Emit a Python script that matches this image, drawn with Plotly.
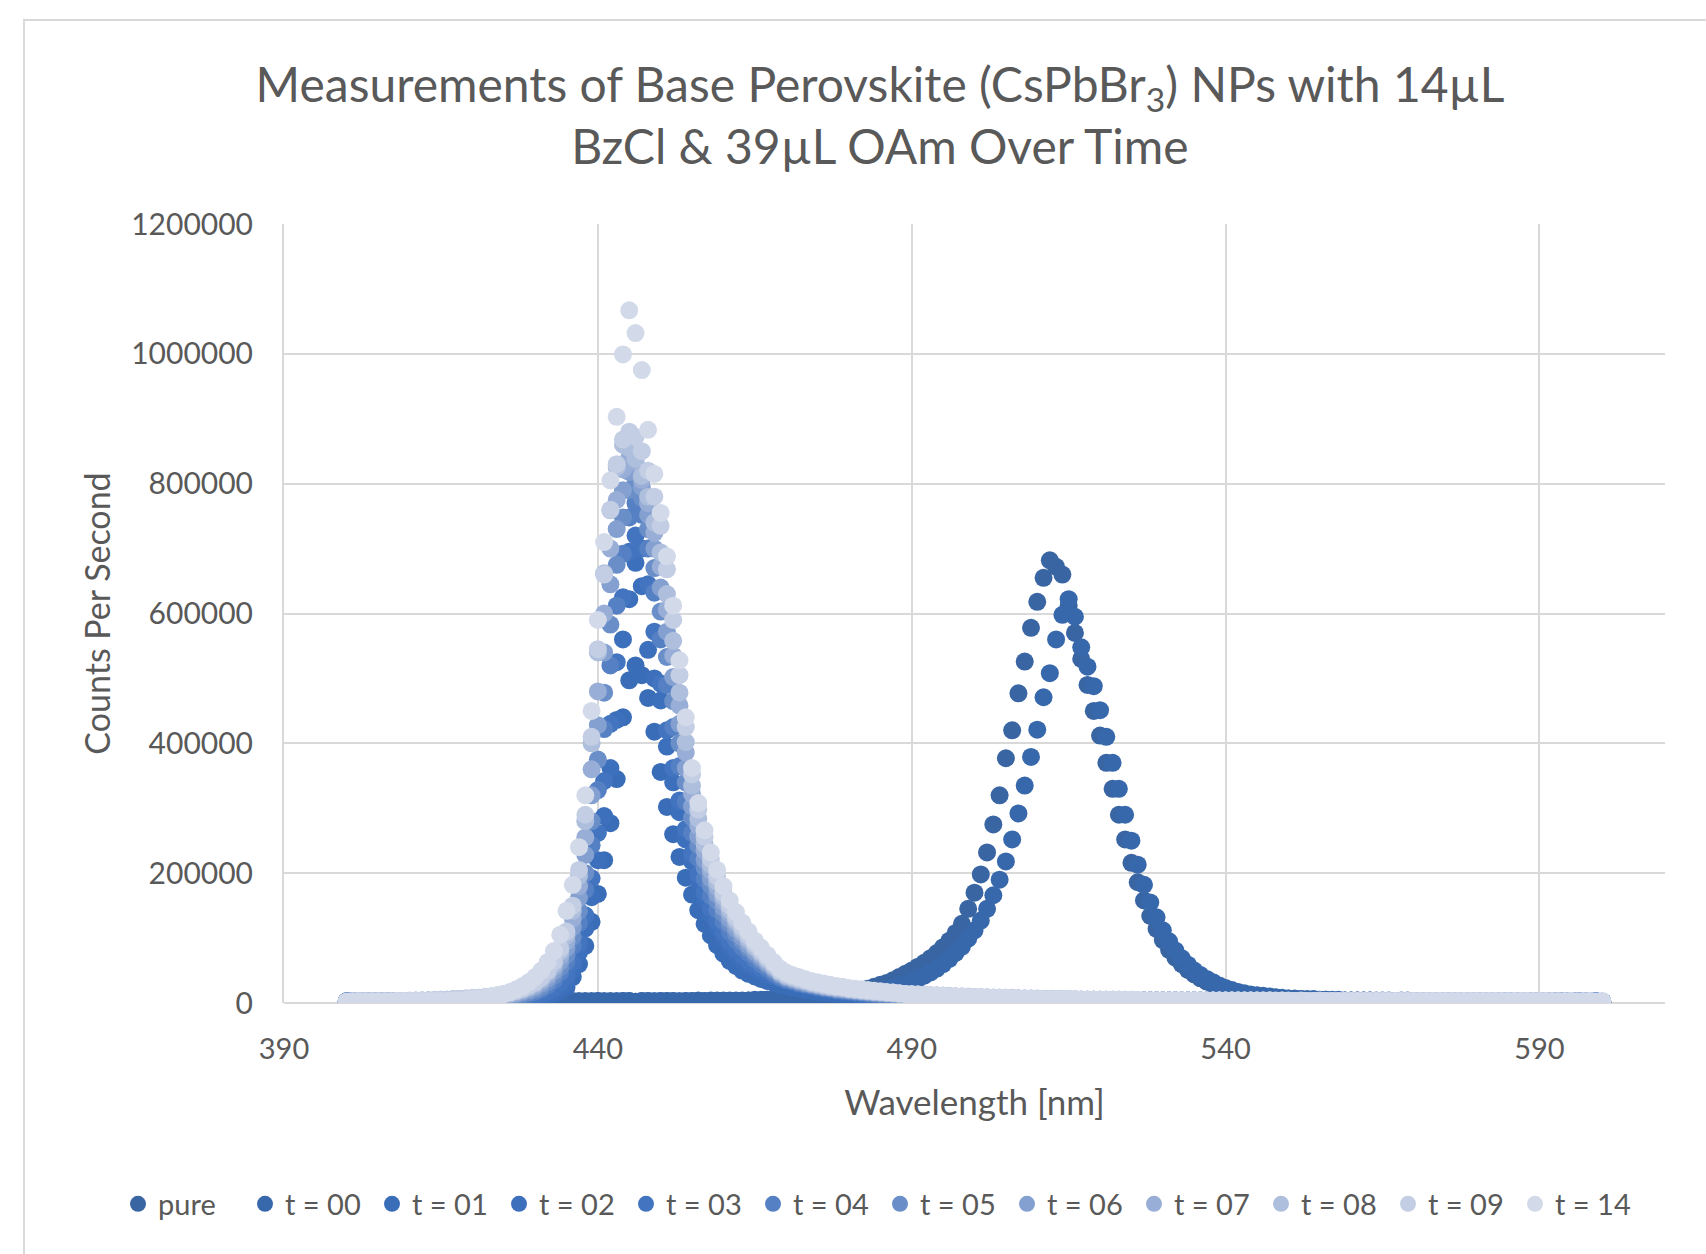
import plotly.graph_objects as go

# ---------------- data (counts per second, in thousands) ----------------
WAVELENGTH_NM = list(range(400, 601))

SERIES_NAMES = ["pure", "t = 00", "t = 01", "t = 02", "t = 03", "t = 04",
                "t = 05", "t = 06", "t = 07", "t = 08", "t = 09", "t = 14"]

COLORS = ["#3A65A3", "#3868AC", "#3A6DB7", "#3C70BC", "#4274C0", "#5580C4",
          "#6A8FC8", "#84A0D0", "#99AED6", "#AEBFDD", "#C3CEE4", "#D2DAEA"]

PURE_K = [
    2, 3, 2, 2, 3, 2, 2, 3, 2, 2,
    3, 2, 2, 3, 2, 2, 3, 2, 2, 3,
    2, 2, 3, 2, 2, 3, 2, 3, 2, 2,
    3, 2, 2, 3, 2, 3, 2, 2, 3, 2,
    3, 2, 3, 2, 3, 3, 2, 3, 3, 2,
    3, 3, 3, 2, 3, 3, 3, 3, 3, 3,
    3, 3, 3, 3, 4, 4, 4, 5, 5, 5,
    6, 6, 7, 7, 8, 9, 10, 11, 12, 14,
    15, 17, 19, 22, 25, 28, 31, 35, 40, 45,
    50, 56, 62, 69, 77, 86, 96, 108, 122, 145,
    170, 198, 232, 275, 320, 377, 420, 477, 526, 578,
    618, 655, 682, 672, 660, 612, 570, 530, 490, 450,
    412, 370, 330, 290, 252, 216, 186, 158, 134, 114,
    97, 82, 70, 60, 51, 44, 38, 33, 28, 24,
    21, 18, 16, 14, 12, 11, 10, 9, 8, 7,
    7, 6, 6, 5, 5, 5, 5, 4, 4, 4,
    4, 4, 4, 4, 3, 4, 3, 3, 4, 3,
    3, 3, 3, 3, 3, 3, 3, 3, 2, 3,
    3, 2, 3, 3, 2, 3, 2, 3, 2, 2,
    3, 2, 2, 3, 2, 2, 2, 3, 2, 2,
    2]

T00_K = [
    3, 2, 2, 3, 2, 3, 2, 2, 3, 2,
    2, 3, 2, 2, 3, 2, 3, 2, 2, 3,
    2, 3, 2, 2, 3, 2, 2, 3, 2, 3,
    2, 3, 3, 2, 3, 2, 3, 3, 2, 3,
    3, 3, 2, 3, 3, 3, 2, 3, 3, 3,
    3, 3, 3, 3, 3, 3, 4, 3, 4, 4,
    4, 4, 4, 4, 4, 5, 5, 5, 5, 6,
    6, 6, 6, 7, 7, 7, 8, 8, 9, 9,
    10, 11, 12, 14, 16, 18, 20, 23, 26, 29,
    33, 37, 42, 47, 53, 60, 68, 77, 87, 99,
    112, 127, 145, 166, 190, 218, 252, 292, 335, 379,
    421, 471, 508, 560, 598, 622, 595, 548, 518, 488,
    451, 410, 370, 330, 290, 250, 213, 182, 155, 132,
    112, 95, 81, 69, 59, 50, 43, 37, 32, 27,
    23, 20, 17, 15, 13, 12, 11, 10, 9, 8,
    7, 7, 6, 6, 6, 5, 5, 5, 5, 4,
    4, 4, 4, 4, 4, 3, 4, 3, 3, 4,
    3, 3, 3, 3, 3, 3, 3, 3, 3, 3,
    3, 3, 2, 3, 3, 2, 3, 3, 2, 3,
    2, 3, 2, 2, 3, 2, 2, 3, 2, 2,
    2]

T01_K = [
    2, 2, 2, 2, 2, 2, 2, 2, 2, 2,
    2, 2, 2, 3, 3, 3, 3, 3, 3, 3,
    4, 4, 4, 4, 5, 5, 5, 6, 6, 7,
    7, 8, 10, 13, 18, 24, 40, 60, 88, 125,
    168, 220, 277, 345, 440, 497, 520, 505, 470, 418,
    356, 302, 260, 225, 193, 167, 143, 122, 104, 89,
    76, 65, 57, 50, 45, 41, 37, 34, 31, 28,
    26, 24, 22, 20, 19, 17, 16, 15, 14, 13,
    12, 12, 11, 10, 10, 9, 9, 8, 8, 8,
    7, 7, 7, 6, 6, 6, 6, 6, 5, 5,
    5, 5, 5, 5, 5, 4, 4, 4, 4, 4,
    4, 4, 4, 4, 4, 4, 4, 4, 4, 4,
    4, 4, 3, 4, 3, 3, 4, 3, 3, 3,
    3, 3, 3, 3, 3, 3, 3, 3, 3, 3,
    3, 3, 3, 3, 3, 3, 3, 3, 3, 3,
    3, 3, 3, 3, 3, 2, 3, 3, 3, 3,
    3, 3, 2, 3, 3, 3, 2, 3, 3, 2,
    3, 3, 2, 3, 2, 3, 3, 2, 3, 2,
    2, 3, 2, 2, 3, 2, 2, 3, 2, 2,
    2, 2, 3, 2, 2, 2, 2, 2, 3, 2,
    2]

T02_K = [
    2, 2, 2, 2, 2, 2, 2, 2, 2, 2,
    2, 2, 2, 3, 3, 3, 3, 3, 3, 4,
    4, 4, 5, 5, 5, 6, 6, 7, 8, 8,
    9, 10, 13, 17, 24, 31, 52, 78, 115, 163,
    220, 288, 362, 436, 560, 622, 678, 642, 544, 500,
    466, 395, 340, 294, 252, 218, 187, 160, 136, 116,
    99, 85, 75, 65, 59, 54, 48, 44, 41, 37,
    34, 31, 29, 26, 25, 22, 21, 20, 18, 17,
    16, 14, 13, 13, 12, 12, 11, 11, 10, 10,
    9, 9, 9, 8, 8, 8, 7, 7, 7, 7,
    6, 6, 6, 6, 6, 5, 5, 5, 5, 5,
    5, 5, 5, 4, 4, 4, 4, 4, 4, 4,
    4, 4, 4, 4, 4, 4, 4, 4, 4, 4,
    4, 4, 4, 3, 4, 3, 4, 3, 3, 4,
    3, 3, 3, 3, 3, 3, 3, 3, 3, 3,
    3, 3, 3, 3, 3, 3, 3, 3, 3, 3,
    3, 3, 3, 2, 3, 3, 3, 3, 2, 3,
    3, 3, 3, 2, 3, 3, 2, 3, 3, 2,
    3, 2, 3, 2, 2, 3, 2, 3, 2, 2,
    2, 3, 2, 2, 3, 2, 2, 2, 2, 3,
    2]

T03_K = [
    2, 2, 2, 2, 2, 2, 2, 2, 3, 3,
    3, 3, 3, 3, 3, 3, 3, 4, 4, 4,
    4, 5, 5, 5, 6, 6, 7, 8, 9, 10,
    12, 14, 18, 23, 31, 42, 62, 92, 135, 192,
    262, 342, 430, 525, 625, 695, 720, 700, 645, 572,
    492, 420, 362, 312, 268, 230, 198, 170, 146, 126,
    109, 94, 83, 73, 65, 59, 53, 48, 43, 39,
    35, 33, 30, 28, 26, 24, 22, 21, 19, 18,
    17, 16, 15, 14, 13, 13, 12, 12, 11, 11,
    10, 10, 9, 9, 9, 8, 8, 8, 7, 7,
    7, 7, 6, 6, 6, 6, 6, 5, 5, 5,
    5, 5, 5, 5, 5, 5, 4, 4, 4, 4,
    4, 4, 4, 4, 4, 4, 4, 4, 4, 4,
    4, 4, 4, 4, 4, 4, 3, 3, 4, 3,
    3, 3, 3, 3, 3, 3, 3, 3, 3, 3,
    3, 3, 3, 3, 3, 3, 3, 3, 3, 3,
    3, 3, 3, 3, 3, 3, 3, 3, 3, 3,
    3, 2, 3, 3, 3, 2, 3, 3, 2, 3,
    3, 2, 3, 3, 2, 3, 2, 2, 3, 2,
    2, 3, 2, 2, 3, 2, 2, 3, 2, 2,
    2]

T04_K = [
    2, 2, 2, 2, 2, 2, 3, 3, 3, 3,
    3, 3, 3, 3, 3, 4, 4, 4, 4, 5,
    5, 5, 6, 6, 7, 8, 9, 10, 12, 14,
    17, 21, 27, 35, 47, 63, 88, 123, 174, 243,
    328, 422, 520, 612, 692, 748, 770, 752, 700, 632,
    560, 490, 425, 365, 310, 262, 223, 191, 165, 144,
    126, 110, 97, 86, 77, 68, 60, 53, 46, 40,
    36, 34, 31, 29, 27, 25, 23, 22, 20, 19,
    18, 17, 16, 15, 14, 14, 13, 13, 12, 12,
    11, 11, 10, 10, 10, 9, 9, 9, 8, 8,
    8, 7, 7, 7, 7, 6, 6, 6, 6, 6,
    5, 5, 5, 5, 5, 5, 5, 5, 4, 4,
    4, 4, 4, 4, 4, 4, 4, 4, 4, 4,
    4, 4, 4, 4, 4, 4, 4, 4, 3, 4,
    3, 4, 3, 3, 3, 3, 3, 3, 3, 3,
    3, 3, 3, 3, 3, 3, 3, 3, 3, 3,
    3, 3, 3, 3, 3, 3, 3, 3, 3, 3,
    3, 3, 3, 3, 2, 3, 3, 3, 2, 3,
    3, 3, 2, 3, 2, 3, 3, 2, 3, 2,
    2, 3, 2, 3, 2, 2, 3, 2, 2, 2,
    2]

T05_K = [
    2, 2, 2, 2, 2, 3, 3, 3, 3, 3,
    3, 3, 3, 3, 4, 4, 4, 4, 5, 5,
    5, 6, 6, 7, 8, 9, 10, 12, 14, 17,
    20, 25, 32, 42, 55, 74, 102, 142, 200, 280,
    375, 478, 583, 675, 748, 790, 800, 778, 730, 670,
    603, 533, 465, 400, 340, 286, 243, 209, 181, 158,
    138, 121, 107, 95, 84, 75, 66, 58, 50, 43,
    38, 35, 32, 30, 28, 26, 24, 23, 21, 20,
    19, 18, 17, 16, 15, 14, 14, 13, 13, 12,
    12, 11, 11, 10, 10, 10, 9, 9, 9, 8,
    8, 8, 8, 7, 7, 7, 7, 6, 6, 6,
    6, 6, 5, 5, 5, 5, 5, 5, 5, 5,
    4, 4, 4, 4, 4, 4, 4, 4, 4, 4,
    4, 4, 4, 4, 4, 4, 4, 4, 4, 4,
    4, 3, 4, 3, 3, 3, 3, 3, 3, 3,
    3, 3, 3, 3, 3, 3, 3, 3, 3, 3,
    3, 3, 3, 3, 3, 3, 3, 3, 3, 3,
    3, 3, 3, 3, 3, 3, 3, 2, 3, 3,
    3, 2, 3, 3, 2, 3, 3, 2, 3, 2,
    3, 2, 2, 3, 2, 2, 3, 2, 2, 2,
    2]

T06_K = [
    2, 2, 2, 2, 3, 3, 3, 3, 3, 3,
    3, 3, 3, 4, 4, 4, 4, 5, 5, 6,
    6, 7, 7, 8, 9, 10, 12, 14, 17, 20,
    24, 30, 38, 49, 64, 85, 117, 162, 228, 320,
    428, 540, 645, 730, 790, 818, 820, 795, 752, 700,
    640, 572, 502, 430, 362, 303, 257, 221, 192, 168,
    147, 129, 114, 101, 89, 79, 70, 61, 53, 45,
    40, 37, 34, 31, 29, 27, 25, 24, 22, 21,
    20, 19, 18, 17, 16, 15, 15, 14, 13, 13,
    12, 12, 11, 11, 11, 10, 10, 9, 9, 9,
    8, 8, 8, 8, 7, 7, 7, 7, 6, 6,
    6, 6, 6, 6, 5, 5, 5, 5, 5, 5,
    5, 5, 4, 4, 4, 4, 4, 4, 4, 4,
    4, 4, 4, 4, 4, 4, 4, 4, 4, 4,
    4, 4, 4, 3, 4, 3, 3, 3, 3, 3,
    3, 3, 3, 3, 3, 3, 3, 3, 3, 3,
    3, 3, 3, 3, 3, 3, 3, 3, 3, 3,
    3, 3, 3, 3, 3, 3, 3, 3, 3, 3,
    3, 3, 2, 3, 3, 2, 3, 3, 2, 3,
    2, 3, 2, 2, 3, 2, 2, 3, 2, 2,
    2]

T07_K = [
    2, 2, 2, 3, 3, 3, 3, 3, 3, 3,
    3, 3, 4, 4, 4, 4, 5, 5, 6, 6,
    7, 7, 8, 9, 10, 12, 14, 16, 19, 23,
    27, 34, 43, 55, 72, 95, 130, 180, 255, 360,
    480, 600, 700, 775, 822, 840, 833, 806, 770, 724,
    672, 606, 535, 458, 386, 322, 273, 235, 204, 179,
    157, 138, 122, 108, 95, 84, 74, 64, 55, 47,
    41, 38, 35, 33, 30, 28, 26, 25, 23, 22,
    21, 20, 19, 18, 17, 16, 15, 15, 14, 13,
    13, 12, 12, 11, 11, 11, 10, 10, 9, 9,
    9, 8, 8, 8, 8, 7, 7, 7, 7, 6,
    6, 6, 6, 6, 6, 5, 5, 5, 5, 5,
    5, 5, 5, 5, 4, 4, 4, 4, 4, 4,
    4, 4, 4, 4, 4, 4, 4, 4, 4, 4,
    4, 4, 4, 4, 4, 3, 4, 3, 3, 3,
    3, 3, 3, 3, 3, 3, 3, 3, 3, 3,
    3, 3, 3, 3, 3, 3, 3, 3, 3, 3,
    3, 3, 3, 3, 3, 3, 3, 3, 3, 3,
    3, 3, 3, 2, 3, 3, 2, 3, 3, 2,
    3, 2, 3, 2, 2, 3, 2, 2, 3, 2,
    2]

T08_K = [
    2, 2, 3, 3, 3, 3, 3, 3, 3, 3,
    3, 4, 4, 4, 4, 5, 5, 6, 6, 7,
    7, 8, 9, 10, 11, 13, 15, 18, 21, 25,
    30, 37, 47, 60, 79, 104, 142, 196, 280, 400,
    540, 662, 759, 825, 860, 855, 838, 812, 780, 740,
    694, 630, 558, 478, 402, 335, 284, 245, 213, 187,
    164, 144, 127, 112, 99, 87, 77, 67, 57, 48,
    42, 39, 36, 34, 31, 29, 27, 25, 24, 23,
    21, 20, 19, 18, 17, 17, 16, 15, 14, 14,
    13, 13, 12, 12, 11, 11, 10, 10, 10, 9,
    9, 9, 8, 8, 8, 8, 7, 7, 7, 7,
    6, 6, 6, 6, 6, 6, 5, 5, 5, 5,
    5, 5, 5, 5, 5, 4, 4, 4, 4, 4,
    4, 4, 4, 4, 4, 4, 4, 4, 4, 4,
    4, 4, 4, 4, 4, 4, 3, 4, 3, 3,
    3, 3, 3, 3, 3, 3, 3, 3, 3, 3,
    3, 3, 3, 3, 3, 3, 3, 3, 3, 3,
    3, 3, 3, 3, 3, 3, 3, 3, 3, 3,
    3, 3, 3, 3, 2, 3, 3, 2, 3, 3,
    2, 3, 2, 3, 2, 2, 3, 2, 2, 2,
    2]

T09_K = [
    2, 3, 3, 3, 3, 3, 3, 3, 3, 3,
    4, 4, 4, 4, 5, 5, 5, 6, 6, 7,
    8, 8, 9, 10, 12, 14, 16, 19, 22, 27,
    32, 40, 50, 64, 84, 110, 150, 205, 290, 410,
    545, 660, 760, 830, 868, 880, 872, 850, 820, 780,
    735, 668, 590, 505, 425, 352, 298, 256, 222, 195,
    170, 150, 132, 117, 104, 91, 80, 70, 60, 50,
    44, 41, 38, 35, 32, 30, 28, 26, 25, 24,
    22, 21, 20, 19, 18, 17, 16, 16, 15, 14,
    14, 13, 13, 12, 12, 11, 11, 10, 10, 10,
    9, 9, 9, 8, 8, 8, 8, 7, 7, 7,
    7, 6, 6, 6, 6, 6, 6, 5, 5, 5,
    5, 5, 5, 5, 5, 5, 4, 4, 4, 4,
    4, 4, 4, 4, 4, 4, 4, 4, 4, 4,
    4, 4, 4, 4, 4, 4, 4, 4, 3, 4,
    3, 3, 3, 3, 3, 3, 3, 3, 3, 3,
    3, 3, 3, 3, 3, 3, 3, 3, 3, 3,
    3, 3, 3, 3, 3, 3, 3, 3, 3, 3,
    3, 3, 3, 3, 3, 2, 3, 3, 3, 2,
    3, 3, 2, 3, 2, 3, 2, 2, 3, 2,
    2]

T14_K = [
    2, 2, 2, 2, 2, 2, 2, 2, 3, 3,
    3, 3, 3, 3, 3, 3, 3, 4, 4, 5,
    6, 7, 8, 10, 12, 14, 17, 21, 26, 32,
    40, 50, 63, 80, 105, 142, 182, 240, 320, 450,
    590, 710, 805, 903, 999, 1067, 1032, 975, 883, 815,
    755, 688, 612, 528, 440, 362, 308, 266, 232, 205,
    180, 158, 140, 124, 110, 96, 85, 74, 63, 53,
    47, 43, 40, 37, 34, 32, 30, 28, 26, 25,
    23, 22, 21, 20, 19, 18, 17, 16, 15, 14,
    13, 13, 12, 12, 11, 11, 10, 10, 10, 9,
    9, 9, 8, 8, 8, 8, 7, 7, 7, 7,
    7, 6, 6, 6, 6, 6, 6, 5, 5, 5,
    5, 5, 5, 5, 5, 5, 5, 4, 4, 4,
    4, 4, 4, 4, 4, 4, 4, 4, 4, 4,
    4, 4, 4, 4, 4, 4, 4, 4, 4, 4,
    4, 3, 4, 3, 3, 4, 3, 3, 3, 3,
    3, 3, 3, 3, 3, 3, 3, 3, 3, 3,
    3, 3, 3, 3, 3, 3, 3, 3, 3, 3,
    3, 3, 3, 3, 3, 3, 3, 3, 3, 3,
    3, 3, 3, 2, 3, 3, 2, 3, 3, 2,
    3]

SERIES_VALUES_K = [PURE_K, T00_K, T01_K, T02_K, T03_K, T04_K,
                   T05_K, T06_K, T07_K, T08_K, T09_K, T14_K]

# ---------------- figure ----------------
FONT = "Lato, 'Open Sans', sans-serif"
TEXT_GREY = "#595959"
GRID = "#D9D9D9"

PLOT_L, PLOT_R, PLOT_T, PLOT_B = 284, 1665, 224, 1003
PLOT_W, PLOT_H = PLOT_R - PLOT_L, PLOT_B - PLOT_T

fig = go.Figure()
for name, color, vals in zip(SERIES_NAMES, COLORS, SERIES_VALUES_K):
    n = min(len(WAVELENGTH_NM), len(vals))
    fig.add_trace(go.Scatter(
        x=WAVELENGTH_NM[:n],
        y=[v * 1000 for v in vals[:n]],
        mode="markers",
        name=name,
        marker=dict(color=color, size=18, line=dict(width=0)),
    ))

fig.update_layout(
    width=1706, height=1254,
    paper_bgcolor="white", plot_bgcolor="white",
    margin=dict(l=PLOT_L, r=1706 - PLOT_R, t=PLOT_T, b=1254 - PLOT_B),
    font=dict(family=FONT, color=TEXT_GREY),
    title=dict(
        text="Measurements of Base Perovskite (CsPbBr<sub>3</sub>) NPs with 14µL<br>BzCl &amp; 39µL OAm Over Time",
        x=880 / 1706, xanchor="center", xref="container",
        y=1 - 102 / 1254, yanchor="middle", yref="container",
        font=dict(family=FONT, size=48, color=TEXT_GREY),
    ),
    showlegend=True,
    legend=dict(
        orientation="h", xref="paper", yref="paper",
        x=(118 - PLOT_L) / PLOT_W, xanchor="left",
        y=(PLOT_B - 1204) / PLOT_H, yanchor="middle",
        font=dict(family=FONT, size=29, color=TEXT_GREY),
        entrywidth=82, traceorder="normal",
    ),
)

fig.update_xaxes(
    range=[390, 610], tick0=390, dtick=50,
    showgrid=True, gridcolor=GRID, gridwidth=2,
    zeroline=False, showline=False, ticks="",
    tickfont=dict(family=FONT, size=29, color=TEXT_GREY),
    ticklabelstandoff=26,
    title=dict(text="Wavelength [nm]", font=dict(family=FONT, size=35, color=TEXT_GREY), standoff=26),
)
fig.update_yaxes(
    range=[0, 1200000], tick0=0, dtick=200000, tickformat="d",
    showgrid=True, gridcolor=GRID, gridwidth=2,
    zeroline=True, zerolinecolor=GRID, zerolinewidth=2,
    showline=True, linecolor=GRID, linewidth=2, ticks="",
    tickfont=dict(family=FONT, size=30, color=TEXT_GREY),
    ticklabelstandoff=23,
    title=dict(text="Counts Per Second", font=dict(family=FONT, size=34, color=TEXT_GREY), standoff=10),
)

# chart-area border
fig.add_shape(type="rect", xref="paper", yref="paper",
              x0=(24 - PLOT_L) / PLOT_W, x1=(1720 - PLOT_L) / PLOT_W,
              y0=(PLOT_B - 1270) / PLOT_H, y1=(PLOT_B - 20) / PLOT_H,
              line=dict(color=GRID, width=2), fillcolor="rgba(0,0,0,0)", layer="below")

fig.write_html("out.html", config={"displayModeBar": False},
               post_script="document.body.style.margin='0';")
